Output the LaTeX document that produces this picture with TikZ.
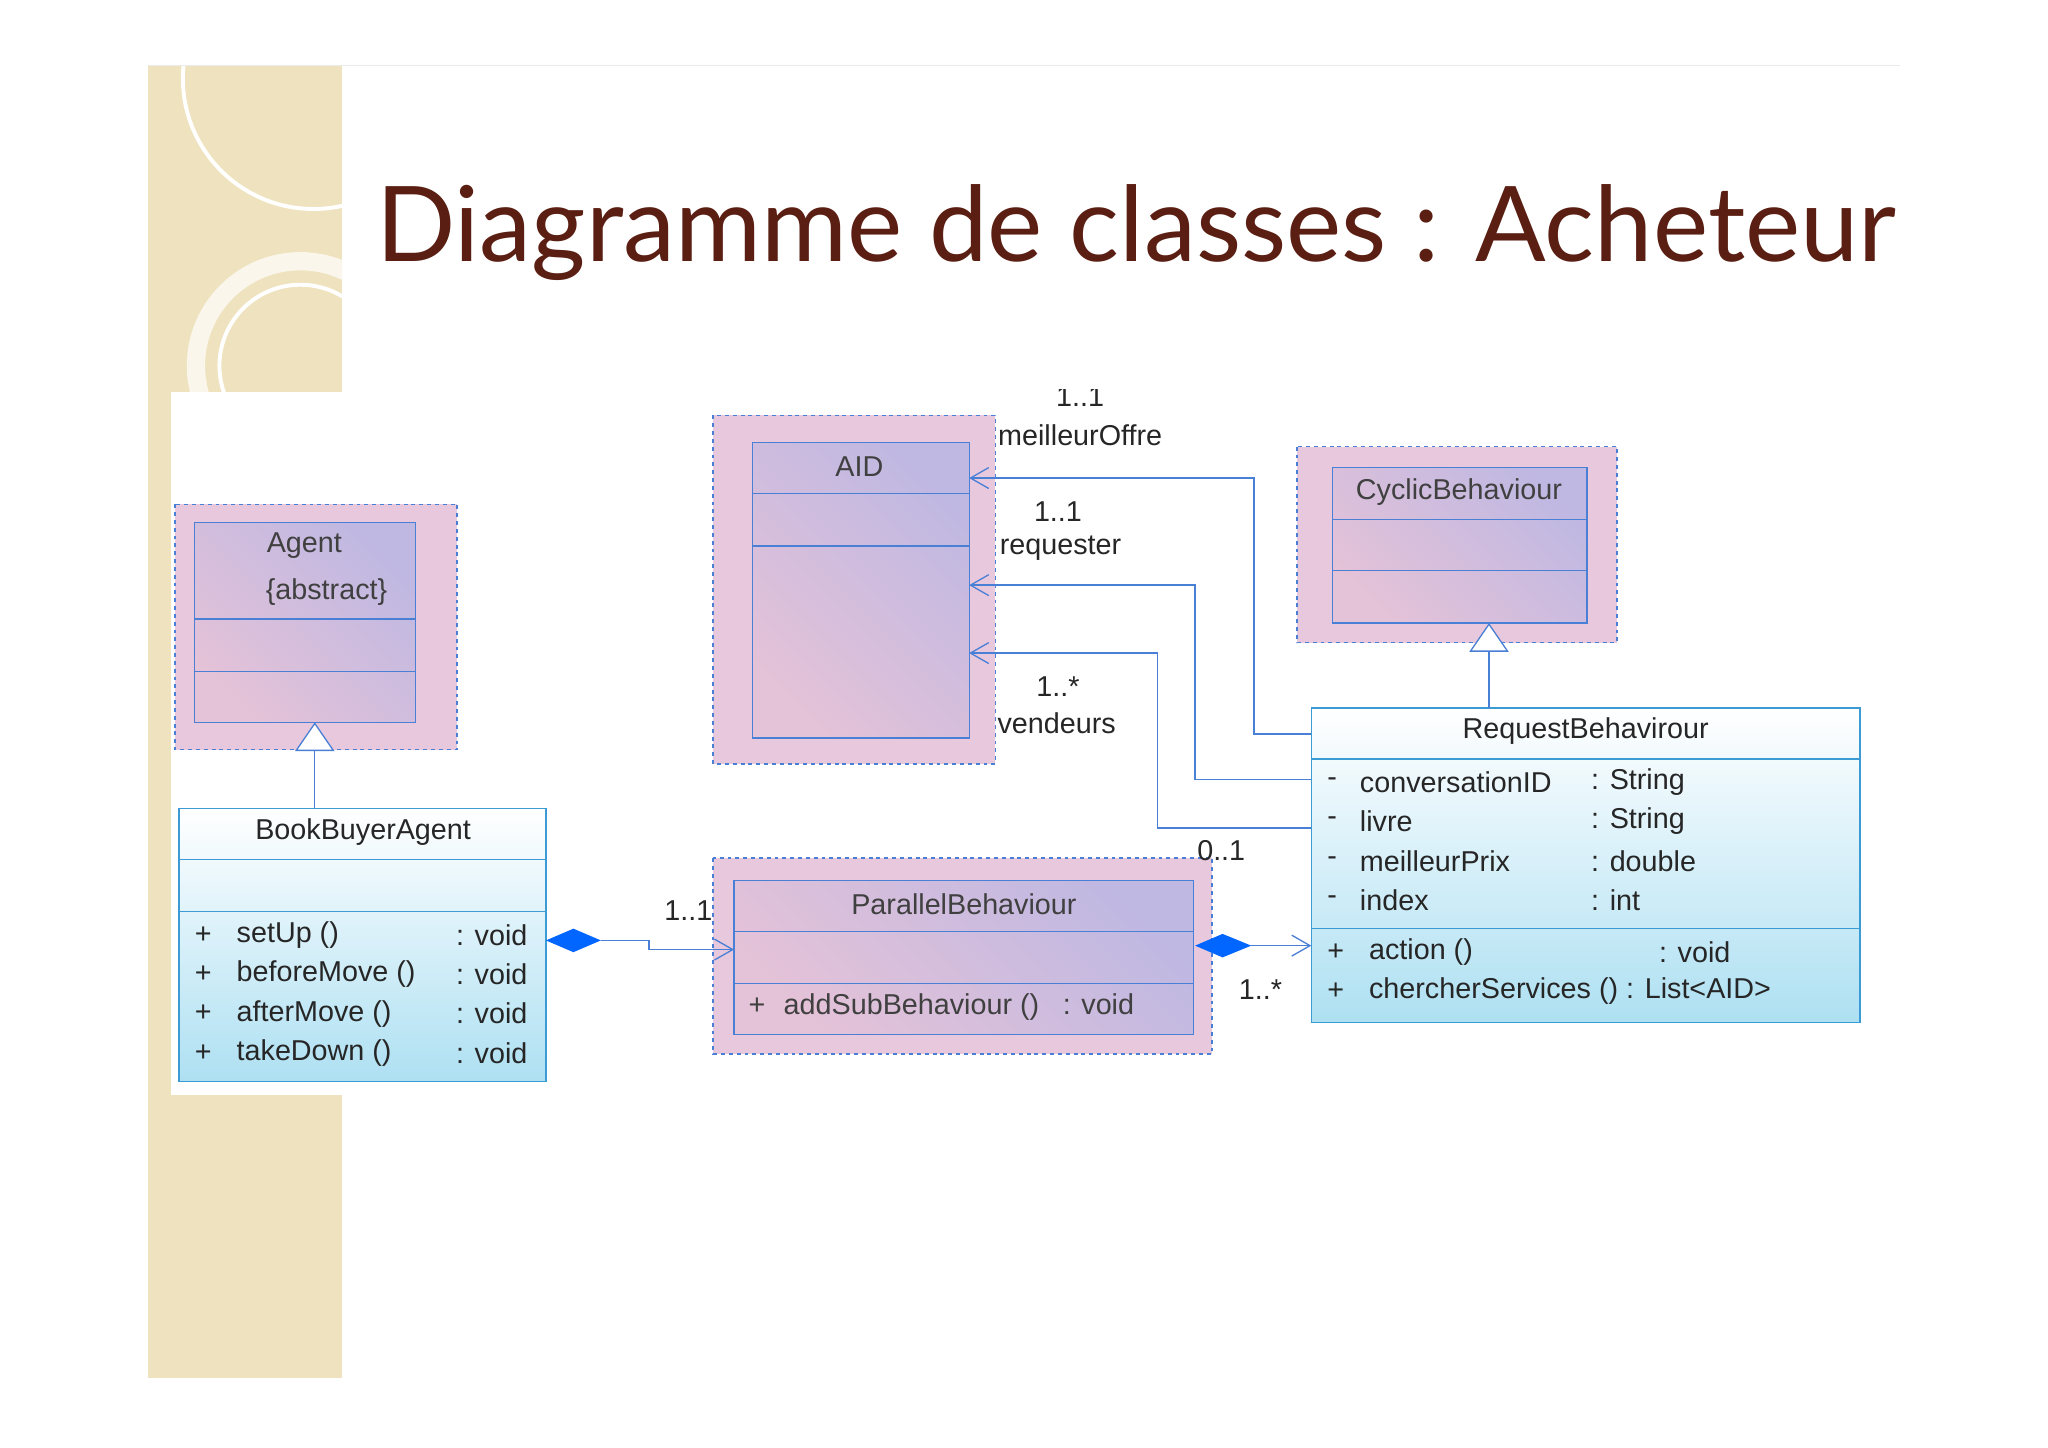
\documentclass[tikz,border=0pt]{standalone}
\usepackage{fontspec}
\setmainfont{Liberation Sans}
\newfontfamily\titlefont{Lato}
\usetikzlibrary{arrows.meta,calc}
\definecolor{beige}{HTML}{EFE2BE}
\definecolor{titlec}{HTML}{5A1E12}
\definecolor{ublue}{HTML}{4A7FD6}
\definecolor{pinkbg}{HTML}{E8C8DC}
\definecolor{pinkA}{HTML}{E4C2D8}
\definecolor{lavB}{HTML}{BFB8E2}
\definecolor{lblue}{HTML}{AEE0F2}
\definecolor{bbord}{HTML}{3C9AD4}
\tikzset{
  outerbox/.style={draw=ublue, dashed, fill=pinkbg, line width=1pt},
  clsbox/.style={draw=ublue, left color=pinkA, right color=lavB, shading angle=135, line width=1pt},
  bluebox/.style={draw=bbord, top color=white, bottom color=lblue, line width=1.2pt},
  sep/.style={draw=ublue, line width=1pt},
  bsep/.style={draw=bbord, line width=1.2pt},
  conn/.style={draw=ublue, line width=1pt},
  txt/.style={font=\fontsize{22}{26}\selectfont, text=black!85, inner sep=0pt},
  ptxt/.style={txt, text=black!75},
  opena/.style={-{Straight Barb[length=14pt,width=16pt]}},
  gen/.style={-{Triangle[open,length=22pt,width=30pt,fill=white]}},
  dia/.style={draw=none, fill=blue!60!cyan}
}
\begin{document}
\begin{tikzpicture}[x=1pt,y=-1pt]
\useasboundingbox (0,0) rectangle (1568,1108);
\fill[white] (0,0) rectangle (1568,1108);
% side strip
\fill[beige] (113,50) rectangle (262,1055);
\begin{scope}
\clip (113,50) rectangle (262,300);
\draw[white, line width=3pt] (240,60) circle (100);
\draw[white!70!beige, line width=14pt] (230,280) circle (80);
\draw[white, line width=3pt] (230,280) circle (62);
\end{scope}
\draw[black!8] (113,50) -- (1455,50);
\fill[white] (131,300) rectangle (262,838);
% title
\node[text=titlec, font=\titlefont\fontsize{80}{90}\selectfont, inner sep=0pt] (title) at (870,178) {Diagramme de classes : Acheteur};

% Agent
\draw[outerbox] (134,386) rectangle (350,574);
\node[clsbox, minimum width=169pt, minimum height=153pt, inner sep=0pt] (agent) at (233.5,476.5) {};
\draw[sep] (149,474) -- (318,474); \draw[sep] (149,514) -- (318,514);
\node[ptxt] (agentn) at (233,418) {Agent};
\node[ptxt] (agenta) at (250,453) {\{abstract\}};

% AID
\draw[outerbox] (546,318) rectangle (762,585);
\node[clsbox, minimum width=166pt, minimum height=226pt, inner sep=0pt] (aid) at (659,452) {};
\draw[sep] (576,378) -- (742,378); \draw[sep] (576,418) -- (742,418);
\node[ptxt] (aidn) at (658,357) {AID};

% Cyclic
\draw[outerbox] (993,342) rectangle (1238,492);
\node[clsbox, minimum width=195pt, minimum height=119pt, inner sep=0pt] (cyc) at (1117.5,417.5) {};
\draw[sep] (1020,398) -- (1215,398); \draw[sep] (1020,437) -- (1215,437);
\node[ptxt] (cycn) at (1117,377) {CyclicBehaviour};

% Parallel
\draw[outerbox] (546,657) rectangle (928,807);
\node[clsbox, minimum width=352pt, minimum height=118pt, inner sep=0pt] (par) at (738,733) {};
\draw[sep] (562,713) -- (914,713); \draw[sep] (562,753) -- (914,753);
\node[ptxt] (parn) at (738,692) {ParallelBehaviour};
\node[ptxt, anchor=west] (parm) at (573,771) {+\hspace{14pt}addSubBehaviour ()\hspace{18pt}: void};

% BookBuyerAgent
\node[bluebox, minimum width=281pt, minimum height=209pt, inner sep=0pt] (bba) at (277.5,723.5) {};
\draw[bsep] (137,658) -- (418,658); \draw[bsep] (137,698) -- (418,698);
\node[txt] (bban) at (278,637) {BookBuyerAgent};
\foreach \y/\m [count=\i] in {716/setUp (),746/beforeMove (),776/afterMove (),806/takeDown ()}{
  \node[txt, anchor=west] (bp\i) at (149,\y) {+};
  \node[txt, anchor=west] (bm\i) at (181,\y) {\m};
  \node[txt, anchor=west] (bt\i) at (349,\y) {: void};
}

% RequestBehavirour
\node[bluebox, minimum width=420pt, minimum height=241pt, inner sep=0pt] (req) at (1214,662.5) {};
\draw[bsep] (1004,581) -- (1424,581); \draw[bsep] (1004,711) -- (1424,711);
\node[txt] (reqn) at (1214,560) {RequestBehavirour};
\foreach \y/\a/\t [count=\i] in {599/conversationID/String,629/livre/String,659/meilleurPrix/double,689/index/int}{
  \node[txt, anchor=west] (ra\i) at (1016,\y) {-};
  \node[txt, anchor=west] (rn\i) at (1041,\y) {\a};
  \node[txt, anchor=west] (rt\i) at (1218,\y) {: \t};
}
\node[txt, anchor=west] (rm1p) at (1016,729) {+};
\node[txt, anchor=west] (rm1) at (1048,729) {action ()};
\node[txt, anchor=west] (rm1t) at (1270,729) {: void};
\node[txt, anchor=west] (rm2p) at (1016,759) {+};
\node[txt, anchor=west] (rm2) at (1048,759) {chercherServices () : List<AID>};

% generalizations
\coordinate (g1s) at (241,619); \coordinate (g1e) at (241,553);
\draw[conn, gen] (g1s) -- (g1e);
\coordinate (g2s) at (1140,542); \coordinate (g2e) at (1140,477);
\draw[conn, gen] (g2s) -- (g2e);

% associations to AID
\coordinate (a1s) at (1004,562); \coordinate (a1e) at (742,366);
\draw[conn, opena] (a1s) -- (960,562) -- (960,366) -- (a1e);
\coordinate (a2s) at (1004,597); \coordinate (a2e) at (742,448);
\draw[conn, opena] (a2s) -- (915,597) -- (915,448) -- (a2e);
\coordinate (a3s) at (1004,634); \coordinate (a3e) at (742,500);
\draw[conn, opena] (a3s) -- (886,634) -- (886,500) -- (a3e);
\begin{scope}
\clip (700,298) rectangle (1000,600);
\node[txt] (l1a) at (827,304) {1..1};
\end{scope}
\node[txt] (l1b) at (827,333) {meilleurOffre};
\node[txt] (l2a) at (810,392) {1..1};
\node[txt] (l2b) at (812,420) {requester};
\node[txt] (l3a) at (810,526) {1..*};
\node[txt] (l3b) at (809,554) {vendeurs};

% compositions
\coordinate (c1s) at (418,720); \coordinate (c1e) at (562,727);
\fill[dia] (418,720) -- (439,711) -- (460,720) -- (439,729) -- cycle;
\draw[conn, opena] (460,720) -- (497,720) -- (497,727) -- (c1e);
\node[txt] (c1l) at (527,697) {1..1};
\coordinate (c2s) at (915,724); \coordinate (c2e) at (1004,724);
\fill[dia] (915,724) -- (936,715) -- (958,724) -- (936,733) -- cycle;
\draw[conn, opena] (958,724) -- (c2e);
\node[txt] (c2a) at (935,651) {0..1};
\node[txt] (c2b) at (965,758) {1..*};
\end{tikzpicture}
\end{document}
